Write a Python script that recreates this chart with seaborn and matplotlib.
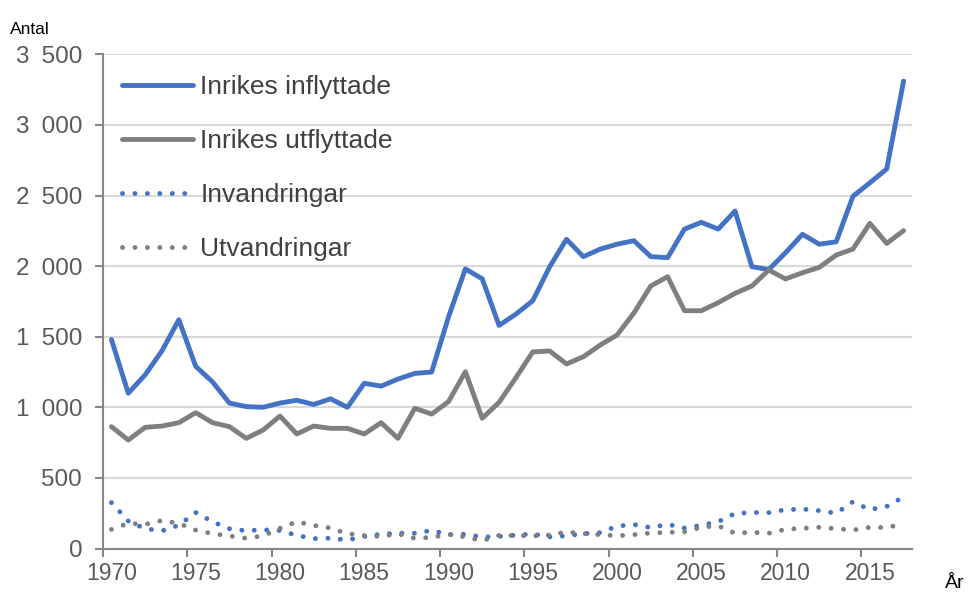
import matplotlib
matplotlib.use("Agg")
import matplotlib.pyplot as plt
import seaborn as sns
import pandas as pd
from matplotlib.ticker import FuncFormatter, FixedLocator

years = list(range(1970, 2018))

inrikes_inflyttade = [1480, 1100, 1230, 1400, 1620, 1290, 1180, 1030, 1005, 1000,
                      1030, 1050, 1020, 1060, 1000, 1170, 1150, 1200, 1240, 1250,
                      1640, 1980, 1910, 1580, 1660, 1755, 1995, 2190, 2067, 2120,
                      2155, 2180, 2067, 2060, 2262, 2310, 2262, 2390, 1996, 1975,
                      2095, 2225, 2155, 2172, 2495, 2590, 2688, 3310]

inrikes_utflyttade = [863, 768, 858, 867, 891, 962, 891, 863, 780, 839,
                      938, 811, 867, 851, 851, 811, 891, 780, 993, 952,
                      1040, 1252, 922, 1035, 1210, 1392, 1399, 1307, 1358, 1441,
                      1512, 1668, 1859, 1925, 1684, 1684, 1741, 1807, 1859, 1972,
                      1909, 1953, 1991, 2078, 2121, 2303, 2161, 2251]

invandringar = [325, 195, 140, 125, 165, 255, 190, 140, 126, 133,
                127, 93, 70, 73, 60, 85, 102, 108, 108, 128,
                98, 101, 81, 86, 95, 103, 82, 90, 105, 112,
                158, 170, 148, 171, 145, 165, 190, 248, 255, 254,
                275, 279, 268, 250, 331, 275, 298, 365]

utvandringar = [135, 178, 172, 198, 178, 130, 105, 89, 72, 90,
                143, 190, 163, 145, 105, 92, 85, 105, 72, 79,
                101, 82, 55, 93, 92, 89, 95, 117, 106, 98,
                90, 98, 110, 114, 118, 150, 161, 108, 115, 108,
                136, 143, 150, 140, 131, 150, 148, 175]

series_names = ["Inrikes inflyttade", "Inrikes utflyttade", "Invandringar", "Utvandringar"]
x_tick_labels = ["1970", "1975", "1980", "1985", "1990", "1995", "2000", "2005", "2010", "2015"]
y_ticks = [0, 500, 1000, 1500, 2000, 2500, 3000, 3500]

df = pd.DataFrame({"År": years,
                   series_names[0]: inrikes_inflyttade,
                   series_names[1]: inrikes_utflyttade,
                   series_names[2]: invandringar,
                   series_names[3]: utvandringar})

sns.set_theme(style="white")
plt.rcParams["font.family"] = ["Liberation Sans", "DejaVu Sans"]

BLUE = "#4472C4"
GRAY = "#7F7F7F"

fig = plt.figure(figsize=(9.68, 5.92), dpi=100)
ax = fig.add_axes([103 / 968, 1 - 548.5 / 592, (912 - 103) / 968, (548.5 - 54.3) / 592])

lw = 3.5
dot = (0, (0.01, 2.55))
styles = [
    dict(color=BLUE, linestyle="-", solid_capstyle="round", solid_joinstyle="round"),
    dict(color=GRAY, linestyle="-", solid_capstyle="round", solid_joinstyle="round"),
    dict(color=BLUE, linestyle=dot, dash_capstyle="round"),
    dict(color=GRAY, linestyle=dot, dash_capstyle="round"),
]
for name, st in zip(series_names, styles):
    sns.lineplot(data=df, x="År", y=name, ax=ax, label=name, linewidth=lw, **st)

ax.set_xlim(1969.5, 2017.5)
ax.set_ylim(0, 3500)
ax.set_yticks(y_ticks)
ax.yaxis.set_major_formatter(FuncFormatter(lambda v, p: f"{int(v):,}".replace(",", "\u2002")))

label_years = [int(t) for t in x_tick_labels]
ax.xaxis.set_major_locator(FixedLocator([y - 0.5 for y in label_years]))
ax.set_xticklabels([""] * len(label_years))
ax.set_xticks(label_years, minor=True)
ax.set_xticklabels(x_tick_labels, minor=True)

ax.grid(axis="y", color="#D9D9D9", linewidth=1.5)
ax.set_axisbelow(True)
for s in ["top", "right"]:
    ax.spines[s].set_visible(False)
for s in ["left", "bottom"]:
    ax.spines[s].set_color("#868686")
    ax.spines[s].set_linewidth(1.5)

ax.tick_params(axis="x", which="major", length=6, width=1.5, color="#868686", direction="out", bottom=True)
ax.tick_params(axis="x", which="minor", length=0, pad=10, labelsize=16.5, labelcolor="#595959", bottom=True)
ax.tick_params(axis="y", which="major", length=6, width=1.5, color="#868686", direction="out", left=True,
               pad=9, labelsize=17.5, labelcolor="#595959")
ax.set_xlabel("")
ax.set_ylabel("")

leg = ax.legend(loc="upper left", bbox_to_anchor=(0.0235, 0.958), frameon=False,
                fontsize=19, handlelength=2.7, handletextpad=0.27, labelspacing=1.14,
                borderpad=0, borderaxespad=0)
for t in leg.get_texts():
    t.set_color("#404040")

fig.text(10 / 968, 1 - 29 / 592, "Antal", fontsize=12.5, color="black", ha="left", va="center")
fig.text(945 / 968, 1 - 583 / 592, "År", fontsize=14, color="black", ha="left", va="center")

fig.savefig("out.png", dpi=100)
